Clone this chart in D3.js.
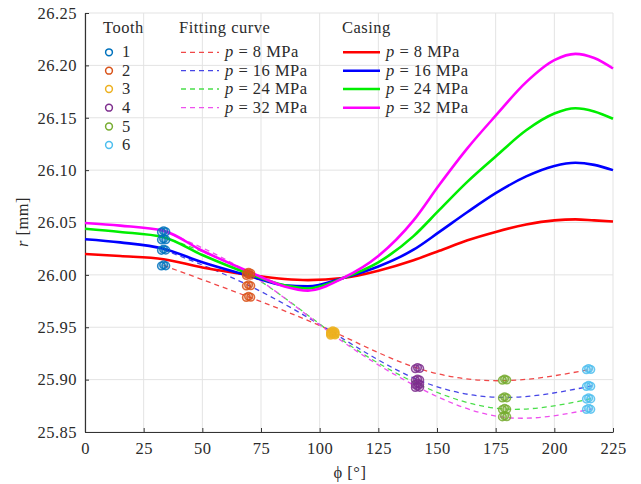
<!DOCTYPE html>
<html><head><meta charset="utf-8">
<script src="https://cdn.jsdelivr.net/npm/d3@7"></script>
<style>
html,body{margin:0;padding:0;background:#fff;}
svg text{font-family:"Liberation Serif","Times New Roman",Times,"DejaVu Serif",serif !important;fill:#2b2b2b;letter-spacing:0.5px;}
</style></head>
<body><svg id="c" width="641" height="484"></svg>
<script>
// ---- data ----
const pressures = ["8", "16", "24", "32"];
const casingPhi = [0, 15, 33.5, 50, 70, 85, 95, 110, 125, 140, 151, 163, 175, 188, 200, 209, 217, 225];
const casing8  = [26.020, 26.018, 26.015, 26.007, 26.000, 25.996, 25.995, 25.997, 26.004, 26.014, 26.023, 26.033, 26.041, 26.048, 26.052, 26.053, 26.052, 26.051];
const casing16 = [26.034, 26.031, 26.025, 26.012, 25.999, 25.990, 25.989, 25.997, 26.008, 26.024, 26.041, 26.060, 26.078, 26.094, 26.104, 26.107, 26.105, 26.100];
const casing24 = [26.044, 26.041, 26.036, 26.019, 26.001, 25.990, 25.987, 25.997, 26.012, 26.037, 26.062, 26.089, 26.113, 26.138, 26.154, 26.159, 26.156, 26.149];
const casing32 = [26.0495, 26.047, 26.042, 26.023, 26.003, 25.989, 25.985, 25.997, 26.018, 26.052, 26.086, 26.121, 26.152, 26.184, 26.205, 26.211, 26.207, 26.197];

const fitPhi = [33.5, 69.7, 105.6, 141.7, 178.8, 216];
const fit8  = [26.009, 25.979, 25.946, 25.911, 25.899, 25.910];
const fit16 = [26.024, 25.990, 25.945, 25.900, 25.883, 25.894];
const fit24 = [26.036, 26.001, 25.944, 25.896, 25.872, 25.882];
const fit32 = [26.042, 26.002, 25.943, 25.893, 25.864, 25.872];

const teeth = ["1", "2", "3", "4", "5", "6"];
const toothPhi = [33.5, 69.7, 105.6, 141.7, 178.8, 214.6];
// values per tooth, order p = 8, 16, 24, 32 MPa
const toothVals = [
  [26.009, 26.024, 26.034, 26.0415],
  [25.979, 25.990, 26.000, 26.002],
  [25.946, 25.945, 25.944, 25.943],
  [25.911, 25.900, 25.896, 25.893],
  [25.900, 25.883, 25.872, 25.865],
  [25.910, 25.894, 25.882, 25.872]
];
const xTicks = [0, 25, 50, 75, 100, 125, 150, 175, 200, 225];
const yTicks = [25.85, 25.90, 25.95, 26.00, 26.05, 26.10, 26.15, 26.20, 26.25];

// ---- styles ----
const casingColors = ["#ff0000", "#0000ff", "#00ee00", "#ff00ff"];
const fitColors = ["#f04848", "#4646e6", "#4ade4a", "#ee50ee"];
const toothColors = ["#0072BD", "#D95319", "#EDB120", "#7E2F8E", "#77AC30", "#4DBEEE"];
const FONT = '"Liberation Serif", "Times New Roman", Times, serif';
const FS = 16.5;

const svg = d3.select("#c");
const L = 85, R = 613, T = 13, B = 432;
const x = d3.scaleLinear().domain([0, 225]).range([L, R]);
const y = d3.scaleLinear().domain([25.85, 26.25]).range([B, T]);

// grid
const g = svg.append("g");
g.selectAll(".gx").data(xTicks).join("line")
  .attr("x1", d => x(d)).attr("x2", d => x(d)).attr("y1", T).attr("y2", B)
  .attr("stroke", "#e3e3e3").attr("stroke-width", 1);
g.selectAll(".gy").data(yTicks).join("line")
  .attr("x1", L).attr("x2", R).attr("y1", d => y(d)).attr("y2", d => y(d))
  .attr("stroke", "#e3e3e3").attr("stroke-width", 1);

// axes
const xAxis = d3.axisBottom(x).tickValues(xTicks).tickFormat(d3.format("d")).tickSizeInner(-4).tickSizeOuter(0).tickPadding(10);
const yAxis = d3.axisLeft(y).tickValues(yTicks).tickFormat(d3.format(".2f")).tickSizeInner(-4).tickSizeOuter(0).tickPadding(8);
const gx = svg.append("g").attr("transform", `translate(0,${B})`).call(xAxis).attr("font-family", FONT);
const gy = svg.append("g").attr("transform", `translate(${L},0)`).call(yAxis).attr("font-family", FONT);
[gx, gy].forEach(a => {
  a.select(".domain").attr("stroke", "#333").attr("stroke-width", 1.2);
  a.selectAll(".tick line").attr("stroke", "#333");
  a.selectAll("text").attr("font-size", FS).attr("font-family", FONT);
});

// fitting curves
const fits = [fit8, fit16, fit24, fit32];
const lineFit = d3.line().x((d, i) => x(fitPhi[i])).y(d => y(d)).curve(d3.curveNatural);
svg.append("g").selectAll("path").data(fits).join("path")
  .attr("d", d => lineFit(d)).attr("fill", "none")
  .attr("stroke", (d, i) => fitColors[i]).attr("stroke-width", 1.3)
  .attr("stroke-dasharray", "5,4");

// casing
const cas = [casing8, casing16, casing24, casing32];
const lineCas = d3.line().x((d, i) => x(casingPhi[i])).y(d => y(d)).curve(d3.curveMonotoneX);
svg.append("g").selectAll("path").data(cas).join("path")
  .attr("d", d => lineCas(d)).attr("fill", "none")
  .attr("stroke", (d, i) => casingColors[i]).attr("stroke-width", 2.6);

// tooth markers (cluster of overlapping circles)
const offs = [[-2.2, 0.6], [0, -0.6], [2.2, 0.4]];
const mk = svg.append("g");
toothVals.forEach((vals, t) => {
  vals.forEach(v => {
    offs.forEach(o => {
      mk.append("circle").attr("cx", x(toothPhi[t]) + o[0]).attr("cy", y(v) + o[1]).attr("r", 3.8)
        .attr("fill", toothColors[t]).attr("fill-opacity", 0.18)
        .attr("stroke", toothColors[t]).attr("stroke-width", 1.5).attr("stroke-opacity", 0.85);
    });
  });
});

// axis labels
svg.append("text").attr("x", 350).attr("y", 478).attr("text-anchor", "middle").attr("font-size", FS)
  .attr("font-family", FONT).text("ϕ [°]");
svg.append("text").attr("transform", "translate(28,222) rotate(-90)").attr("text-anchor", "middle").attr("font-size", FS)
  .attr("font-family", FONT).html('<tspan font-style="italic">r</tspan> [mm]');

// legend
const lg = svg.append("g").attr("font-family", FONT).attr("font-size", FS);
const rowY = [52.3, 70.7, 89, 107.7, 126.5, 145];
lg.append("text").attr("x", 103).attr("y", 33).text("Tooth");
teeth.forEach((t, i) => {
  lg.append("circle").attr("cx", 109).attr("cy", rowY[i]).attr("r", 3.4).attr("fill", "none")
    .attr("stroke", toothColors[i]).attr("stroke-width", 1.5);
  lg.append("text").attr("x", 122).attr("y", rowY[i] + 5).text(t);
});
lg.append("text").attr("x", 179).attr("y", 33).text("Fitting curve");
lg.append("text").attr("x", 342).attr("y", 33).text("Casing");
pressures.forEach((p, i) => {
  lg.append("line").attr("x1", 181).attr("x2", 219).attr("y1", rowY[i]).attr("y2", rowY[i])
    .attr("stroke", fitColors[i]).attr("stroke-width", 1.3).attr("stroke-dasharray", "5,4");
  lg.append("text").attr("x", 225).attr("y", rowY[i] + 5)
    .html(`<tspan font-style="italic">p</tspan> = ${p} MPa`);
  lg.append("line").attr("x1", 343).attr("x2", 380).attr("y1", rowY[i]).attr("y2", rowY[i])
    .attr("stroke", casingColors[i]).attr("stroke-width", 2.6);
  lg.append("text").attr("x", 386).attr("y", rowY[i] + 5)
    .html(`<tspan font-style="italic">p</tspan> = ${p} MPa`);
});
</script></body></html>
